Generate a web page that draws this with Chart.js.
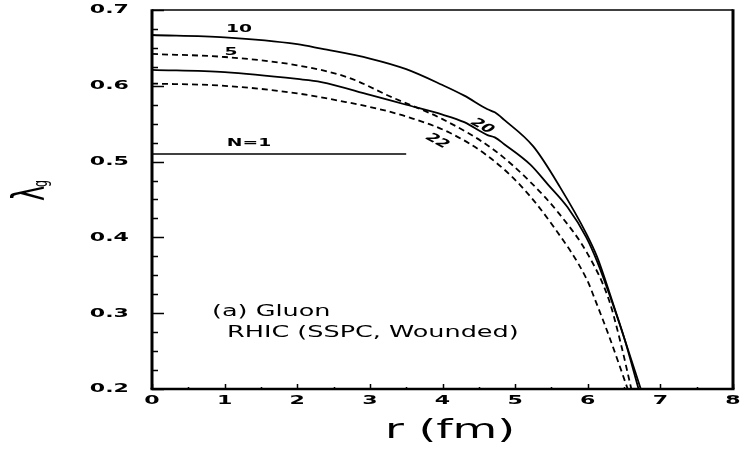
<!DOCTYPE html>
<html>
<head>
<meta charset="utf-8">
<script src="https://cdn.jsdelivr.net/npm/chart.js@4.4.1/dist/chart.umd.min.js"></script>
<style>
  html, body { margin: 0; padding: 0; background: #fff; }
  canvas { display: block; }
</style>
</head>
<body>
<canvas id="lambdaChart" width="741" height="449"></canvas>
<script>
// gluon fugacity vs transverse radius, one curve per N
const r10 = [0, 1, 2, 2.33, 3, 3.5, 4, 4.3, 4.62, 4.72, 4.85, 5.25, 5.62, 5.98, 6.13, 6.33, 6.5, 6.73];
const g10 = [0.667, 0.664, 0.655, 0.649, 0.636, 0.622, 0.601, 0.587, 0.569, 0.565, 0.555, 0.520, 0.466, 0.405, 0.374, 0.318, 0.268, 0.2];

const r20 = [0, 1, 2, 2.33, 3, 3.5, 4, 4.3, 4.62, 4.72, 4.85, 5.21, 5.45, 5.72, 5.98, 6.13, 6.33, 6.5, 6.70];
const g20 = [0.621, 0.618, 0.609, 0.605, 0.588, 0.575, 0.562, 0.552, 0.535, 0.532, 0.523, 0.496, 0.470, 0.440, 0.400, 0.368, 0.316, 0.268, 0.2];

const r5 = [0, 1, 2, 2.7, 3.3, 4, 4.7, 5.2, 5.6, 6.0, 6.29, 6.45, 6.60];
const g5 = [0.642, 0.638, 0.627, 0.611, 0.585, 0.556, 0.516, 0.474, 0.432, 0.378, 0.318, 0.262, 0.2];

const r22 = [0, 1, 2, 2.7, 3.14, 3.55, 4.1, 4.6, 5.07, 5.53, 5.99, 6.1, 6.3, 6.55];
const g22 = [0.603, 0.600, 0.590, 0.578, 0.569, 0.558, 0.538, 0.509, 0.469, 0.414, 0.344, 0.318, 0.268, 0.2];

const rN1 = [0, 3.5];
const gN1 = [0.51, 0.51];

const xTickVals = [0, 1, 2, 3, 4, 5, 6, 7, 8];
const yTickVals = [0.2, 0.3, 0.4, 0.5, 0.6, 0.7];
const yTickLabels = ['0.2', '0.3', '0.4', '0.5', '0.6', '0.7'];

const WIDE = 1.7;   // the old plotting fonts are very extended
const FONT = '"DejaVu Sans", sans-serif';

function pts(xs, ys) {
    return xs.map((v, i) => ({ x: v, y: ys[i] }));
}

function curve(xs, ys, dashed) {
    return {
        data: pts(xs, ys),
        borderColor: '#000',
        borderWidth: 1.8,
        borderDash: dashed ? [6, 4] : [],
        pointRadius: 0,
        cubicInterpolationMode: 'monotone',
        fill: false
    };
}

function wideText(ctx, s, px, py, font, align, rot) {
    ctx.save();
    ctx.translate(px, py);
    ctx.scale(WIDE, 1);
    if (rot) ctx.rotate(rot);
    ctx.font = font;
    ctx.textAlign = align || 'center';
    ctx.textBaseline = 'middle';
    ctx.fillStyle = '#000';
    ctx.fillText(s, 0, 0);
    ctx.restore();
}

// frame, inward ticks and all the lettering
const framePlugin = {
    id: 'frame',
    afterDraw(chart) {
        const { ctx, chartArea: a, scales: { x, y } } = chart;
        ctx.save();
        ctx.strokeStyle = '#000';
        ctx.lineCap = 'butt';

        ctx.lineWidth = 1.5;
        ctx.beginPath();
        ctx.moveTo(a.left, a.top); ctx.lineTo(a.right, a.top);
        ctx.stroke();
        ctx.lineWidth = 3;
        ctx.beginPath();
        ctx.moveTo(a.left, a.top - 0.7); ctx.lineTo(a.left, a.bottom);
        ctx.moveTo(a.right, a.top - 0.7); ctx.lineTo(a.right, a.bottom);
        ctx.stroke();
        ctx.lineWidth = 2.5;
        ctx.beginPath();
        ctx.moveTo(a.left - 1.5, a.bottom); ctx.lineTo(a.right + 1.5, a.bottom);
        ctx.stroke();

        // y ticks: major every 0.1, minor every 0.025
        ctx.lineWidth = 1.5;
        ctx.beginPath();
        for (let k = 0; k <= 20; k++) {
            const v = 0.2 + k * 0.025;
            const py = Math.round(y.getPixelForValue(v)) + 0.5;
            const len = k % 4 === 0 ? 12 : 6;
            ctx.moveTo(a.left, py); ctx.lineTo(a.left + len, py);
        }
        // x ticks: major each fm, minor at the halves
        for (let k = 0; k <= 16; k++) {
            const px = Math.round(x.getPixelForValue(k * 0.5)) + 0.5;
            const len = k % 2 === 0 ? 5 : 2;
            ctx.moveTo(px, a.bottom); ctx.lineTo(px, a.bottom - len);
        }
        ctx.stroke();
        ctx.restore();

        const tickFont = 'bold 13px ' + FONT;
        yTickVals.forEach((v, i) => {
            wideText(ctx, yTickLabels[i], 129, y.getPixelForValue(v), tickFont, 'right');
        });
        xTickVals.forEach(v => {
            wideText(ctx, String(v), x.getPixelForValue(v), 401, tickFont, 'center');
        });

        wideText(ctx, 'r (fm)', 450, 431, '27px ' + FONT, 'center');

        // y title: lambda with subscript g, rotated
        ctx.save();
        ctx.translate(44, 201);
        ctx.scale(WIDE, 1);
        ctx.rotate(-Math.PI / 2);
        ctx.fillStyle = '#000';
        ctx.textBaseline = 'alphabetic';
        ctx.textAlign = 'left';
        ctx.font = '26px ' + FONT;
        ctx.fillText('λ', 0, 0);
        ctx.font = '11px ' + FONT;
        ctx.fillText('g', 14, 1.5);
        ctx.restore();

        const tag = 'bold 11px ' + FONT;
        wideText(ctx, '10', 239, 29, tag);
        wideText(ctx, '5', 231, 52, tag);
        wideText(ctx, 'N=1', 249, 143, tag);
        wideText(ctx, '20', 482, 126, tag, 'center', 0.72);
        wideText(ctx, '22', 437, 141, tag, 'center', 0.72);

        wideText(ctx, '(a) Gluon', 212, 312, '15px ' + FONT, 'left');
        wideText(ctx, 'RHIC (SSPC, Wounded)', 227, 333, '15px ' + FONT, 'left');
    }
};

const ctx = document.getElementById('lambdaChart').getContext('2d');
const lambdaChart = new Chart(ctx, {
    type: 'line',
    data: {
        datasets: [
            curve(r10, g10, false),
            curve(r20, g20, false),
            curve(r5, g5, true),
            curve(r22, g22, true),
            Object.assign(curve(rN1, gN1, false), { borderWidth: 1.5, cubicInterpolationMode: 'default' })
        ]
    },
    options: {
        responsive: false,
        animation: false,
        devicePixelRatio: 1,
        layout: { padding: { top: 10, right: 8, left: 0, bottom: 0 } },
        plugins: { legend: { display: false }, tooltip: { enabled: false } },
        scales: {
            x: {
                type: 'linear', min: 0, max: 8,
                grid: { display: false }, border: { display: false },
                ticks: { display: false },
                afterFit: s => { s.height = 60; }
            },
            y: {
                type: 'linear', min: 0.2, max: 0.7,
                grid: { display: false }, border: { display: false },
                ticks: { display: false },
                afterFit: s => { s.width = 152; }
            }
        }
    },
    plugins: [framePlugin]
});
</script>
</body>
</html>
